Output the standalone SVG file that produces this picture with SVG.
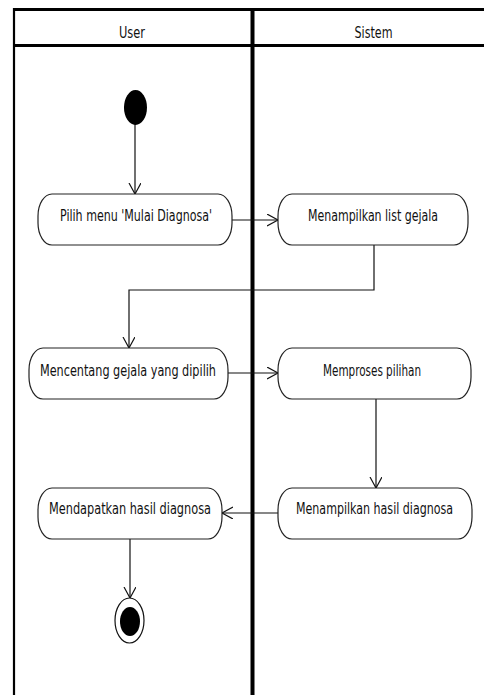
<svg xmlns="http://www.w3.org/2000/svg" width="484" height="695" viewBox="0 0 484 695">
<style>
.node rect{fill:#fff;stroke:#222;stroke-width:1.2}
.lbl{font-family:"DejaVu Sans","Liberation Sans",sans-serif;font-stretch:condensed;font-size:16px;fill:#111;text-anchor:middle}
.conn{fill:none;stroke:#111;stroke-width:1.2}
.frame{stroke:#000;fill:none}
</style>
<defs>
<marker id="arr" markerUnits="userSpaceOnUse" markerWidth="14" markerHeight="14" refX="11" refY="6" orient="auto">
<path d="M0,0 L11,6 L0,12" fill="none" stroke="#111" stroke-width="1.2"/>
</marker>
</defs>
<rect width="484" height="695" fill="#fff"/>
<g id="swimlanes">
<line class="frame" x1="13" y1="9.5" x2="484" y2="9.5" stroke-width="3"/>
<line class="frame" x1="13" y1="45.5" x2="484" y2="45.5" stroke-width="3"/>
<line class="frame" x1="14" y1="8" x2="14" y2="695" stroke-width="2.2"/>
<line class="frame" x1="252.5" y1="8" x2="252.5" y2="695" stroke-width="4"/>
<text class="lbl" x="132" y="38" textLength="26" lengthAdjust="spacingAndGlyphs">User</text>
<text class="lbl" x="373.5" y="38" textLength="38" lengthAdjust="spacingAndGlyphs">Sistem</text>
</g>
<g id="connectors">
<line class="conn" x1="135" y1="124" x2="135" y2="194" marker-end="url(#arr)"/>
<line class="conn" x1="232" y1="220" x2="278" y2="220" marker-end="url(#arr)"/>
<polyline class="conn" points="374,245 374,290 129,290 129,348" marker-end="url(#arr)"/>
<line class="conn" x1="228" y1="373" x2="278" y2="373" marker-end="url(#arr)"/>
<line class="conn" x1="376" y1="399" x2="376" y2="488" marker-end="url(#arr)"/>
<line class="conn" x1="278" y1="513" x2="222" y2="513" marker-end="url(#arr)"/>
<line class="conn" x1="130" y1="539" x2="130" y2="598" marker-end="url(#arr)"/>
</g>
<g id="start"><ellipse cx="135.5" cy="107.5" rx="11.5" ry="17.5" fill="#000"/></g>
<g id="node1" class="node"><rect x="38" y="194" width="194" height="51" rx="14" ry="22"/><text class="lbl" x="136" y="221" textLength="152" lengthAdjust="spacingAndGlyphs">Pilih menu 'Mulai Diagnosa'</text></g>
<g id="node2" class="node"><rect x="278" y="194" width="190" height="51" rx="14" ry="22"/><text class="lbl" x="373" y="221" textLength="130" lengthAdjust="spacingAndGlyphs">Menampilkan list gejala</text></g>
<g id="node3" class="node"><rect x="29" y="348" width="199" height="51" rx="14" ry="22"/><text class="lbl" x="128" y="375.5" textLength="176" lengthAdjust="spacingAndGlyphs">Mencentang gejala yang dipilih</text></g>
<g id="node4" class="node"><rect x="278" y="348" width="193" height="51" rx="14" ry="22"/><text class="lbl" x="372" y="375.5" textLength="98" lengthAdjust="spacingAndGlyphs">Memproses pilihan</text></g>
<g id="node5" class="node"><rect x="278" y="488" width="194" height="51" rx="14" ry="22"/><text class="lbl" x="374.5" y="514" textLength="157" lengthAdjust="spacingAndGlyphs">Menampilkan hasil diagnosa</text></g>
<g id="node6" class="node"><rect x="38" y="488" width="184" height="51" rx="14" ry="22"/><text class="lbl" x="130" y="514" textLength="162" lengthAdjust="spacingAndGlyphs">Mendapatkan hasil diagnosa</text></g>
<g id="end"><ellipse cx="129.5" cy="620.5" rx="14.5" ry="22.5" fill="#fff" stroke="#111" stroke-width="1.2"/><ellipse cx="130" cy="621.5" rx="10" ry="14.5" fill="#000"/></g>
</svg>
